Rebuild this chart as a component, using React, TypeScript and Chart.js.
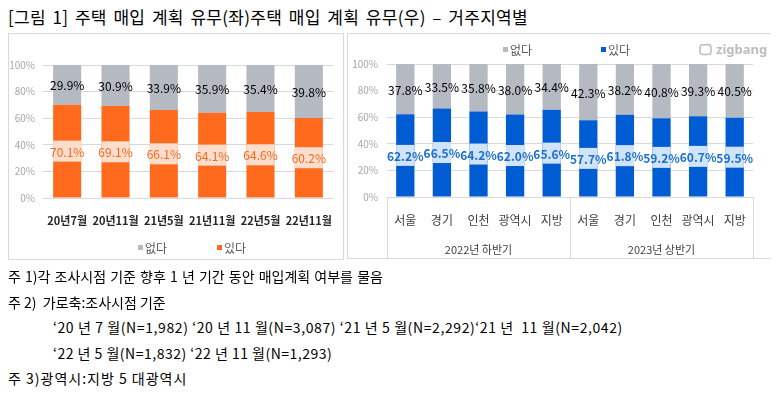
import React, { useEffect, useRef } from "react";
import { Chart, registerables } from "chart.js";
Chart.register(...registerables);

const FONT = "'Noto Sans CJK KR', 'Noto Sans', sans-serif";

const leftCategories = ["20년7월", "20년11월", "21년5월", "21년11월", "22년5월", "22년11월"];
const leftYes = [70.1, 69.1, 66.1, 64.1, 64.6, 60.2];
const leftNo = [29.9, 30.9, 33.9, 35.9, 35.4, 39.8];

const rightCategories = ["서울", "경기", "인천", "광역시", "지방", "서울", "경기", "인천", "광역시", "지방"];
const rightGroups = ["2022년 하반기", "2023년 상반기"];
const rightGroupSizes = [5, 5];
const rightYes = [62.2, 66.5, 64.2, 62.0, 65.6, 57.7, 61.8, 59.2, 60.7, 59.5];
const rightNo = [37.8, 33.5, 35.8, 38.0, 34.4, 42.3, 38.2, 40.8, 39.3, 40.5];

const yTickValues = [0, 20, 40, 60, 80, 100];
const seriesNames = ["있다", "없다"];

const ORANGE = "#ff6a1c";
const BLUE = "#005cd2";
const GRAY = "#b5b9c2";

function labelPlugin(yesColor: string, yesBg: string, yesWeight: string) {
  return {
    id: "dataLabels",
    afterDatasetsDraw(chart: any) {
      const ctx = chart.ctx;
      chart.data.datasets.forEach((ds: any, di: number) => {
        const meta = chart.getDatasetMeta(di);
        meta.data.forEach((el: any, i: number) => {
          const { x, y, base, width } = el.getProps(["x", "y", "base", "width"], true);
          const cy = (y + base) / 2;
          const text = Number(ds.data[i]).toFixed(1) + "%";
          ctx.save();
          if (di === 0) {
            ctx.fillStyle = yesBg;
            ctx.fillRect(x - width / 2, cy - 10.5, width, 21);
            ctx.fillStyle = yesColor;
            ctx.font = `${yesWeight} 12px ${FONT}`;
          } else {
            ctx.fillStyle = "#000";
            ctx.font = `12px ${FONT}`;
          }
          ctx.textAlign = "center";
          ctx.textBaseline = "middle";
          ctx.fillText(text, x, cy + 1);
          ctx.restore();
        });
      });
    },
  };
}

const groupPlugin = {
  id: "groupAxis",
  afterDraw(chart: any) {
    const ctx = chart.ctx;
    const xs = chart.scales.x;
    const area = chart.chartArea;
    const bottom = chart.height;
    const bounds: number[] = [xs.left];
    let idx = 0;
    rightGroupSizes.forEach((n) => {
      idx += n;
      if (idx < rightCategories.length) {
        bounds.push((xs.getPixelForValue(idx - 1) + xs.getPixelForValue(idx)) / 2);
      } else {
        bounds.push(xs.right);
      }
    });
    ctx.save();
    ctx.strokeStyle = "#d9d9d9";
    ctx.lineWidth = 1;
    bounds.forEach((bx) => {
      const px = Math.round(bx) + 0.5;
      ctx.beginPath();
      ctx.moveTo(px, area.bottom);
      ctx.lineTo(px, bottom);
      ctx.stroke();
    });
    ctx.fillStyle = "#404040";
    ctx.font = `11px ${FONT}`;
    ctx.textAlign = "center";
    ctx.textBaseline = "middle";
    rightGroups.forEach((g, gi) => {
      ctx.fillText(g, (bounds[gi] + bounds[gi + 1]) / 2, 216);
    });
    ctx.restore();
  },
};

function makeOptions(pad: any, yWidth: number, yPad: number, xPad: number, xFont: any, xColor: string) {
  return {
    responsive: false,
    animation: false,
    layout: { padding: pad },
    plugins: { legend: { display: false }, tooltip: { enabled: false } },
    scales: {
      x: {
        stacked: true,
        grid: { display: false },
        border: { display: false },
        ticks: { padding: xPad, color: xColor, font: xFont, autoSkip: false, maxRotation: 0 },
      },
      y: {
        stacked: true,
        min: 0,
        max: 100,
        afterFit: (s: any) => {
          s.width = yWidth;
        },
        afterBuildTicks: (s: any) => {
          s.ticks = yTickValues.map((v) => ({ value: v }));
        },
        grid: { color: "#d9d9d9", drawTicks: false },
        border: { display: false },
        ticks: {
          padding: yPad,
          color: "#a6a6a6",
          font: { size: 10, family: FONT },
          callback: (v: any) => v + "%",
        },
      },
    },
  };
}

function LeftChart() {
  const ref = useRef<HTMLCanvasElement>(null);
  useEffect(() => {
    const chart = new Chart(ref.current as HTMLCanvasElement, {
      type: "bar",
      data: {
        labels: leftCategories,
        datasets: [
          { label: seriesNames[0], data: leftYes, backgroundColor: ORANGE, categoryPercentage: 1, barPercentage: 0.58 },
          { label: seriesNames[1], data: leftNo, backgroundColor: GRAY, categoryPercentage: 1, barPercentage: 0.58 },
        ],
      },
      options: makeOptions(
        { top: 31, right: 10, bottom: 23.8, left: 0 },
        34,
        8,
        8,
        { size: 11, weight: "bold", family: FONT },
        "#262626"
      ) as any,
      plugins: [labelPlugin("#f26a21", "rgba(253,229,214,0.95)", "normal")],
    });
    return () => chart.destroy();
  }, []);
  return <canvas ref={ref} width={334} height={225} style={{ display: "block" }} />;
}

function RightChart() {
  const ref = useRef<HTMLCanvasElement>(null);
  useEffect(() => {
    const chart = new Chart(ref.current as HTMLCanvasElement, {
      type: "bar",
      data: {
        labels: rightCategories,
        datasets: [
          { label: seriesNames[0], data: rightYes, backgroundColor: BLUE, categoryPercentage: 1, barPercentage: 0.5 },
          { label: seriesNames[1], data: rightNo, backgroundColor: GRAY, categoryPercentage: 1, barPercentage: 0.5 },
        ],
      },
      options: makeOptions(
        { top: 30, right: 19, bottom: 22.6, left: 0 },
        39,
        9,
        8,
        { size: 12, family: FONT },
        "#404040"
      ) as any,
      plugins: [labelPlugin("#1a6fcf", "rgba(219,234,250,0.95)", "bold"), groupPlugin],
    });
    return () => chart.destroy();
  }, []);
  return <canvas ref={ref} width={424} height={224} style={{ display: "block" }} />;
}

function LegendItem({ left, top, color, text }: { left: number; top: number; color: string; text: string }) {
  return (
    <div
      style={{
        position: "absolute",
        left,
        top,
        height: 16,
        display: "flex",
        alignItems: "center",
        fontFamily: FONT,
        fontSize: 12,
        color: "#595959",
        whiteSpace: "nowrap",
      }}
    >
      <span style={{ display: "inline-block", width: 5, height: 5, background: color, marginRight: 2 }} />
      <span>{text}</span>
    </div>
  );
}

const textLine = (top: number, left: number, content: string, size = 14, ls = 0, ws = 0) => (
  <div
    style={{
      position: "absolute",
      top,
      left,
      lineHeight: "20px",
      fontSize: size,
      fontFamily: FONT,
      color: "#000",
      whiteSpace: "pre",
      letterSpacing: ls,
      wordSpacing: ws,
    }}
  >
    {content}
  </div>
);

export default function App() {
  return (
    <div style={{ position: "relative", width: 763, height: 385, fontFamily: FONT }}>
      {textLine(-1, 0, "[그림 1] 주택 매입 계획 유무(좌)주택 매입 계획 유무(우) – 거주지역별", 17, 0.3, 2.5)}
      <div
        style={{
          position: "absolute",
          left: 0,
          top: 25,
          width: 336,
          height: 227,
          border: "1px solid #d9d9d9",
          boxSizing: "border-box",
        }}
      >
        <LeftChart />
      </div>
      <LegendItem left={130} top={231} color={GRAY} text="없다" />
      <LegendItem left={209} top={231} color={ORANGE} text="있다" />
      <div
        style={{
          position: "absolute",
          left: 339,
          top: 25,
          width: 426,
          height: 226,
          border: "1px solid #d9d9d9",
          boxSizing: "border-box",
        }}
      >
        <RightChart />
      </div>
      <LegendItem left={495} top={33} color={GRAY} text="없다" />
      <LegendItem left={593} top={33} color={BLUE} text="있다" />
      <div
        style={{
          position: "absolute",
          left: 690,
          top: 32,
          height: 18,
          display: "flex",
          alignItems: "center",
          color: "#bdbdbd",
          fontFamily: "'Noto Sans', sans-serif",
          fontWeight: 700,
          fontSize: 13,
        }}
      >
        <svg width="15" height="13" viewBox="0 0 15 13" style={{ marginRight: 3 }}>
          <path d="M3 2 L10 1.5 Q13 1.5 13 4.5 L13 9 Q13 11.5 10 11.5 L5 11.5 Q2 11.5 2 8.5 L2 4 Z" fill="none" stroke="#bdbdbd" strokeWidth="1.6" />
        </svg>
        <span>zigbang</span>
      </div>
      {textLine(257.7, 0, "주 1)각 조사시점 기준 향후 1 년 기간 동안 매입계획 여부를 물음", 14, 0, 1)}
      {textLine(283.7, 0, "주 2)  가로축:조사시점 기준")}
      {textLine(308.7, 45, "‘20 년 7 월(N=1,982) ‘20 년 11 월(N=3,087) ‘21 년 5 월(N=2,292)‘21 년  11 월(N=2,042)", 14, 0.6)}
      {textLine(335, 45, "‘22 년 5 월(N=1,832) ‘22 년 11 월(N=1,293)", 14, 0.5)}
      {textLine(360, 0, "주 3)광역시:지방 5 대광역시", 14, 1)}
    </div>
  );
}
